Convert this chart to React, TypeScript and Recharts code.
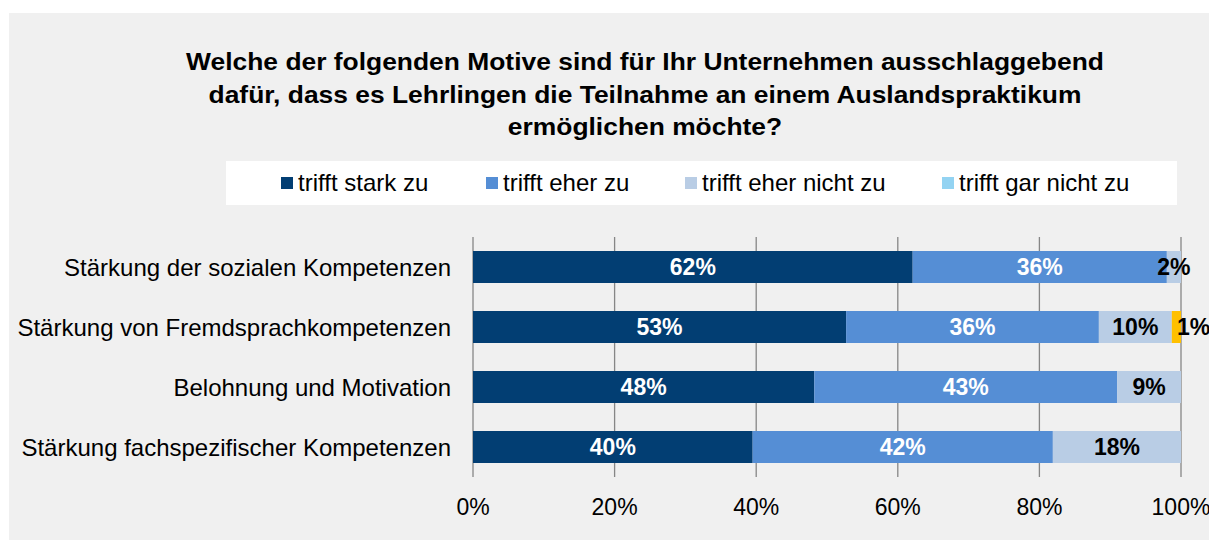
import React from 'react';
import {
  BarChart,
  Bar,
  XAxis,
  YAxis,
  CartesianGrid,
  Legend,
  LabelList,
  Cell,
} from 'recharts';

const categories = [
  'Stärkung der sozialen Kompetenzen',
  'Stärkung von Fremdsprachkompetenzen',
  'Belohnung und Motivation',
  'Stärkung fachspezifischer Kompetenzen',
];
const starkZu = [62.1, 52.7, 48.2, 39.5];
const eherZu = [35.9, 35.7, 42.8, 42.4];
const eherNicht = [2.0, 10.3, 9.0, 18.1];
const garNicht = [null, 1.3, null, null];
const xTicks = [0, 20, 40, 60, 80, 100];

const seriesNames = ['trifft stark zu', 'trifft eher zu', 'trifft eher nicht zu', 'trifft gar nicht zu'];
const colors = ['#023E73', '#558ED5', '#B9CDE5', '#93D3F2'];
const highlight = '#FFC000';

const data = categories.map((name, i) => ({
  name,
  s1: starkZu[i],
  s2: eherZu[i],
  s3: eherNicht[i],
  s4: garNicht[i],
}));

const FONT = '"Liberation Sans", Arial, sans-serif';
const GRID = '#868686';

const pct = (v: any) => (v == null || v === '' ? '' : `${Math.round(Number(v))}%`);

const legendLeft = [55, 260, 459, 716];

const renderLegend = () => (
  <div style={{ position: 'relative', width: 951, height: 44, background: '#fff' }}>
    {seriesNames.map((n, i) => (
      <div
        key={n}
        style={{
          position: 'absolute',
          left: legendLeft[i],
          top: 0,
          height: 44,
          display: 'flex',
          alignItems: 'center',
          fontFamily: FONT,
          fontSize: 24,
          color: '#000',
          whiteSpace: 'nowrap',
        }}
      >
        <span style={{ display: 'inline-block', width: 12, height: 12, background: colors[i], marginRight: 5 }} />
        {n}
      </div>
    ))}
  </div>
);

export default function App() {
  return (
    <div
      style={{
        position: 'relative',
        marginLeft: 1,
        marginTop: 5,
        width: 1208,
        height: 527,
        background: '#F0F0F0',
        fontFamily: FONT,
      }}
    >
      <div
        style={{
          position: 'absolute',
          left: 0,
          width: 1272,
          top: 33,
          textAlign: 'center',
          fontWeight: 'bold',
          fontSize: 24,
          lineHeight: '32.5px',
          color: '#000',
          transform: 'scaleX(1.1)',
          transformOrigin: '636px 0',
        }}
      >
        Welche der folgenden Motive sind für Ihr Unternehmen ausschlaggebend
        <br />
        dafür, dass es Lehrlingen die Teilnahme an einem Auslandspraktikum
        <br />
        ermöglichen möchte?
      </div>
      <BarChart
        width={1208}
        height={527}
        data={data}
        layout="vertical"
        margin={{ top: 224, right: 36, left: 0, bottom: 0 }}
        style={{ position: 'absolute', left: 0, top: 0 }}
      >
        <CartesianGrid horizontal={false} stroke={GRID} strokeWidth={1.3} />
        <XAxis
          type="number"
          domain={[0, 100]}
          ticks={xTicks}
          tickFormatter={(v) => `${v}%`}
          axisLine={false}
          tickLine={false}
          tickMargin={16}
          height={63}
          tick={{ fill: '#000', fontSize: 23, fontFamily: FONT }}
        />
        <YAxis
          yAxisId="edges"
          type="number"
          domain={[0, 4]}
          ticks={[0, 1, 2, 3, 4]}
          width={0}
          tick={false}
          tickSize={8}
          tickLine={{ stroke: GRID, strokeWidth: 1.3 }}
          axisLine={{ stroke: GRID, strokeWidth: 1.3 }}
        />
        <YAxis
          type="category"
          dataKey="name"
          width={464}
          axisLine={false}
          tickLine={false}
          tickSize={0}
          tickMargin={22}
          tick={{ fill: '#000', fontSize: 24, fontFamily: FONT }}
        />
        <Legend
          layout="horizontal"
          verticalAlign="middle"
          align="center"
          content={renderLegend}
          wrapperStyle={{ left: 217, top: 148, width: 951, height: 44 }}
        />
        <Bar dataKey="s1" name={seriesNames[0]} stackId="a" fill={colors[0]} barSize={32} isAnimationActive={false}>
          <LabelList dataKey="s1" position="center" formatter={pct} fill="#fff" fontWeight="bold" fontSize={23} fontFamily={FONT} />
        </Bar>
        <Bar dataKey="s2" name={seriesNames[1]} stackId="a" fill={colors[1]} barSize={32} isAnimationActive={false}>
          <LabelList dataKey="s2" position="center" formatter={pct} fill="#fff" fontWeight="bold" fontSize={23} fontFamily={FONT} />
        </Bar>
        <Bar dataKey="s3" name={seriesNames[2]} stackId="a" fill={colors[2]} barSize={32} isAnimationActive={false}>
          <LabelList dataKey="s3" position="center" formatter={pct} fill="#000" fontWeight="bold" fontSize={23} fontFamily={FONT} />
        </Bar>
        <Bar dataKey="s4" name={seriesNames[3]} stackId="a" fill={colors[3]} barSize={32} isAnimationActive={false}>
          {data.map((d) => (
            <Cell key={d.name} fill={highlight} />
          ))}
          <LabelList dataKey="s4" position="right" offset={-4} formatter={pct} fill="#000" fontWeight="bold" fontSize={23} fontFamily={FONT} />
        </Bar>
      </BarChart>
    </div>
  );
}
